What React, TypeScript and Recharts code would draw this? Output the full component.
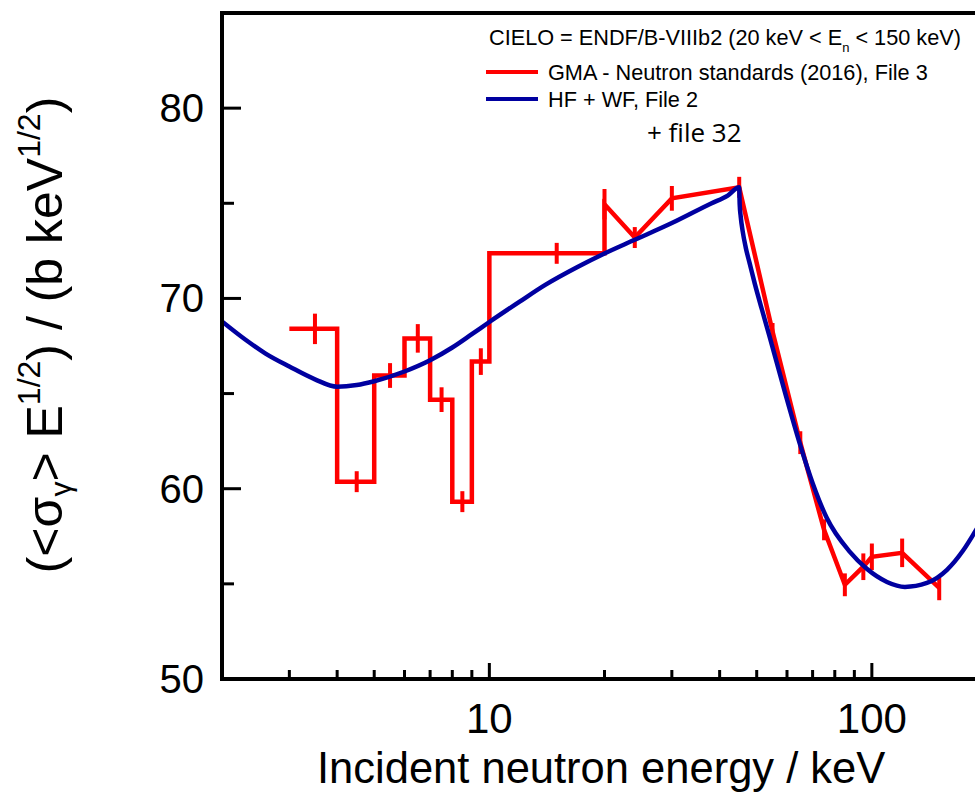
import React from 'react'
import { ComposedChart, Line, ErrorBar, XAxis, YAxis } from 'recharts'

// GMA neutron standards: histogram part (bin edges / bin values) and pointwise part
const gmaBinEdges = [3, 4, 5, 6, 7, 8, 9, 10, 20]
const gmaBinValues = [68.4, 60.37, 65.95, 67.9, 64.68, 59.32, 66.68, 72.37]
const gmaBinErrors = [0.8, 0.55, 0.65, 0.75, 0.65, 0.55, 0.7, 0.55]

const gmaPointEnergies = [20, 24, 30, 45, 55, 65, 75, 85, 95, 100, 120, 150]
const gmaPointValues = [74.95, 73.2, 75.26, 75.84, 68.26, 62.42, 57.84, 54.95, 55.9, 56.42, 56.63, 54.79]
const gmaPointErrors = [0.8, 0.55, 0.65, 0.55, 0.45, 0.6, 0.55, 0.6, 0.7, 0.7, 0.75, 0.65]

// HF + WF evaluation (File 2)
const hfEnergies = [
  2, 2.3, 2.6, 3, 3.5, 4, 4.5, 5, 6, 7, 8, 9, 10, 12, 14, 17, 20, 24, 30, 38, 42, 45,
  45.13, 45.4, 45.95, 46.8, 47.93, 49.4, 51.5, 54.1, 59.2, 64.8, 70.1, 76.2, 87.6, 97,
  109.5, 122, 139.3, 157.2, 173, 186.1, 200,
]
const hfValues = [
  68.79, 67.84, 67.1, 66.42, 65.75, 65.36, 65.45, 65.65, 66.16, 66.75, 67.42, 68.12, 68.76,
  69.83, 70.71, 71.65, 72.36, 73.08, 73.96, 74.99, 75.4, 75.84,
  74.95, 74.32, 73.53, 72.68, 71.84, 70.79, 69.47, 67.95, 65.1, 62.37, 60.26, 58.47, 56.68,
  55.79, 55.1, 54.84, 55.05, 55.74, 56.74, 57.74, 58.79,
]

const xTicks = [3, 4, 5, 6, 7, 8, 9, 10, 20, 30, 40, 50, 60, 70, 80, 90, 100, 200]
const xMajor = [10, 100]
const yTicks = [50, 55, 60, 65, 70, 75, 80]
const yMajor = [50, 60, 70, 80]

const RED = '#ff0000'
const BLUE = '#0000a0'
const FONT = "'Liberation Sans', Arial, sans-serif"

// chart box and margins; the plot frame follows from these
const W = 1000
const H = 793
const M = { top: 12, right: 13, bottom: 14, left: 122 }
const Y_AXIS_W = 100
const X_AXIS_H = 100
const TOP_AXIS_H = 1
const plotLeft = M.left + Y_AXIS_W
const plotRight = W - M.right
const plotTop = M.top + TOP_AXIS_H
const plotBottom = H - M.bottom - X_AXIS_H

// step outline followed by the pointwise polyline
const gmaLine: { e: number; v: number }[] = []
gmaBinValues.forEach((v, i) => {
  gmaLine.push({ e: gmaBinEdges[i], v })
  gmaLine.push({ e: gmaBinEdges[i + 1], v })
})
gmaPointEnergies.forEach((e, i) => gmaLine.push({ e, v: gmaPointValues[i] }))

// error bars: bin centres for the histogram, then the points
const gmaErrors = [
  ...gmaBinValues.map((v, i) => ({
    e: (gmaBinEdges[i] + gmaBinEdges[i + 1]) / 2,
    v,
    err: gmaBinErrors[i],
  })),
  ...gmaPointEnergies.map((e, i) => ({ e, v: gmaPointValues[i], err: gmaPointErrors[i] })),
]

const hfLine = hfEnergies.map((e, i) => ({ e, v: hfValues[i] }))

// tick marks drawn as filled rects, pointing into the plot
function BottomTick(p: any) {
  const major = xMajor.includes(p.payload.value)
  const len = major ? 16 : 9
  return (
    <g>
      <rect x={p.x - 1.5} y={p.y - len} width={3} height={len} fill="#000" />
      {major ? (
        <text x={p.x} y={p.y + 54} textAnchor="middle" fontSize={42} fontFamily={FONT} fill="#000">
          {p.payload.value}
        </text>
      ) : null}
    </g>
  )
}

function TopTick(p: any) {
  const major = xMajor.includes(p.payload.value)
  const len = major ? 9 : 6
  return <rect x={p.x - 1.5} y={p.y} width={3} height={len} fill="#000" />
}

function LeftTick(p: any) {
  const major = yMajor.includes(p.payload.value)
  const len = major ? 19 : 12
  return (
    <g>
      <rect x={p.x} y={p.y - 1.5} width={len} height={3} fill="#000" />
      {major ? (
        <text x={p.x - 18} y={p.y + 14} textAnchor="end" fontSize={40} fontFamily={FONT} fill="#000">
          {p.payload.value}
        </text>
      ) : null}
    </g>
  )
}

// html text placed by its baseline (line-height 1)
function Label({ x, base, size, family = FONT, children }: any) {
  const k = family === FONT ? 0.8465 : 0.888
  return (
    <div
      style={{
        position: 'absolute',
        left: x,
        top: base - k * size,
        fontSize: size,
        lineHeight: `${size}px`,
        fontFamily: family,
        whiteSpace: 'nowrap',
        color: '#000',
      }}
    >
      {children}
    </div>
  )
}

const shift = (dy: number, size: number, text: string) => (
  <span style={{ position: 'relative', top: dy, fontSize: size, lineHeight: 0 }}>{text}</span>
)

const frame = (left: number, top: number, width: number, height: number) => (
  <div style={{ position: 'absolute', left, top, width, height, background: '#000' }} />
)

export default function App() {
  return (
    <div style={{ position: 'fixed', left: 0, top: 0, width: 975, height: 793, overflow: 'hidden', background: '#fff' }}>
      {/* plot frame */}
      {frame(plotLeft - 2, plotTop - 2, plotRight - plotLeft + 4, 4)}
      {frame(plotLeft - 2, plotBottom - 2, plotRight - plotLeft + 4, 4)}
      {frame(plotLeft - 2, plotTop - 2, 4, plotBottom - plotTop + 4)}
      {frame(plotRight - 2, plotTop - 2, 4, plotBottom - plotTop + 4)}

      <div style={{ position: 'absolute', left: 0, top: 0 }}>
        <ComposedChart width={W} height={H} margin={M}>
          <XAxis
            dataKey="e"
            type="number"
            scale="log"
            domain={[2, 200]}
            allowDataOverflow
            ticks={xTicks}
            interval={0}
            height={X_AXIS_H}
            tickSize={0}
            tickMargin={0}
            tickLine={false}
            stroke="#000"
            strokeWidth={4}
            tick={(p: any) => <BottomTick {...p} />}
          />
          <XAxis
            xAxisId="top"
            orientation="top"
            type="number"
            scale="log"
            domain={[2, 200]}
            allowDataOverflow
            ticks={xTicks}
            interval={0}
            height={TOP_AXIS_H}
            tickSize={0}
            tickMargin={0}
            tickLine={false}
            stroke="#000"
            strokeWidth={4}
            tick={(p: any) => <TopTick {...p} />}
          />
          <YAxis
            dataKey="v"
            type="number"
            domain={[50, 85]}
            allowDataOverflow
            ticks={yTicks}
            interval={0}
            width={Y_AXIS_W}
            tickSize={0}
            tickMargin={0}
            tickLine={false}
            stroke="#000"
            strokeWidth={4}
            tick={(p: any) => <LeftTick {...p} />}
          />
          <Line
            data={gmaLine}
            dataKey="v"
            type="linear"
            stroke={RED}
            strokeWidth={4.5}
            strokeLinejoin="miter"
            dot={false}
            activeDot={false}
            isAnimationActive={false}
          />
          <Line
            data={gmaErrors}
            dataKey="v"
            stroke="none"
            dot={false}
            activeDot={false}
            isAnimationActive={false}
          >
            <ErrorBar dataKey="err" direction="y" width={0} stroke={RED} strokeWidth={4} />
          </Line>
          <Line
            data={hfLine}
            dataKey="v"
            type="monotone"
            stroke={BLUE}
            strokeWidth={4.5}
            dot={false}
            activeDot={false}
            isAnimationActive={false}
          />
        </ComposedChart>
      </div>

      {/* legend */}
      <Label x={489} base={45} size={21.7}>
        CIELO = ENDF/B-VIIIb2 (20 keV &lt; E{shift(7, 13, 'n')} &lt; 150 keV)
      </Label>
      <div style={{ position: 'absolute', left: 486, top: 69.75, width: 52, height: 4.5, background: RED }} />
      <Label x={548} base={80} size={21.7}>
        GMA - Neutron standards (2016), File 3
      </Label>
      <div style={{ position: 'absolute', left: 486, top: 96.75, width: 52, height: 4.5, background: BLUE }} />
      <Label x={548} base={107} size={21.7}>
        HF + WF, File 2
      </Label>
      <Label x={647} base={142} size={26} family="'Open Sans', Lato, sans-serif">
        + file 32
      </Label>

      {/* axis titles */}
      <Label x={317} base={784} size={43.5}>
        Incident neutron energy / keV
      </Label>
      <div
        style={{
          position: 'absolute',
          left: 62,
          top: 335,
          transformOrigin: '0 0',
          transform: `rotate(-90deg) translate(-50%, ${-0.8465 * 50}px)`,
          fontSize: 50,
          lineHeight: '50px',
          fontFamily: FONT,
          whiteSpace: 'nowrap',
          color: '#000',
        }}
      >
        (&lt;σ{shift(9, 30, 'γ')}&gt; E{shift(-22, 32, '1/2')}) / (b keV{shift(-22, 32, '1/2')})
      </div>
    </div>
  )
}
